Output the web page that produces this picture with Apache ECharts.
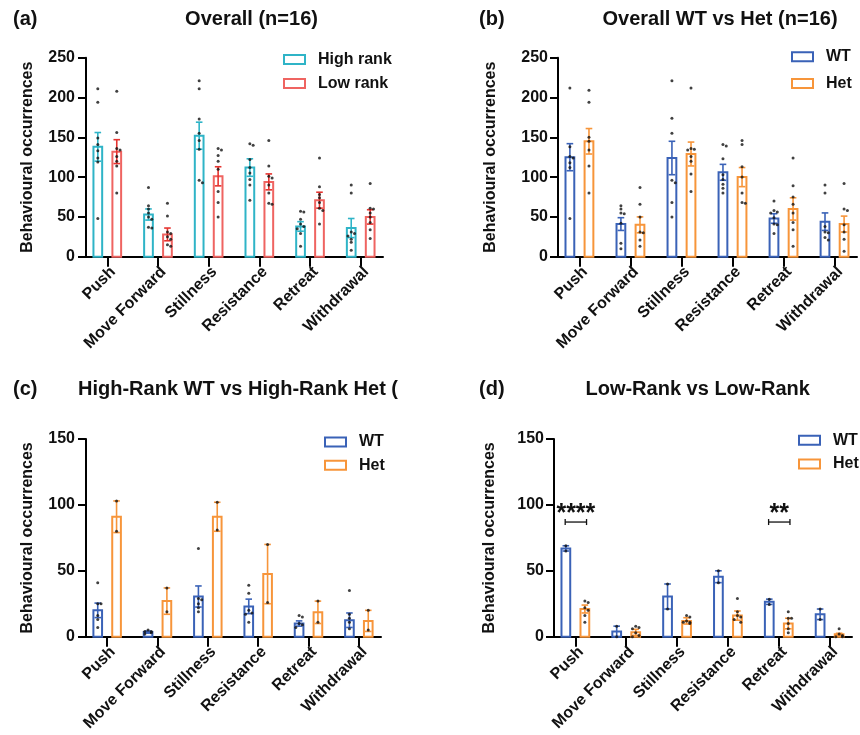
<!DOCTYPE html>
<html>
<head>
<meta charset="utf-8">
<script src="https://cdn.jsdelivr.net/npm/echarts@6/dist/echarts.min.js"></script>
<style>
  html, body { margin: 0; padding: 0; background: #fff; }
  #main { width: 860px; height: 735px; }
</style>
</head>
<body>
<div id="main"></div>
<script>
var categories = ['Push', 'Move Forward', 'Stillness', 'Resistance', 'Retreat', 'Withdrawal'];

// (a) Overall, high vs low rank
var aHighMean = [138, 53, 152, 112, 38, 36];
var aHighSem = [18, 7, 17, 11, 6, 12];
var aLowMean = [132, 28, 101, 94, 71, 50];
var aLowSem = [15, 8, 12, 10, 10, 9];
var aHighDots = [
  [211, 194, 149, 141, 133, 124, 119, 48],
  [87, 64, 60, 55, 50, 47, 37, 36],
  [221, 211, 173, 155, 146, 135, 96, 93],
  [142, 140, 122, 112, 105, 97, 90, 71],
  [57, 56, 47, 41, 38, 35, 29, 13],
  [90, 80, 31, 29, 26, 22, 18, 8]
];
var aLowDots = [
  [208, 156, 136, 134, 126, 120, 114, 80],
  [67, 51, 31, 29, 25, 22, 15, 13],
  [136, 134, 127, 120, 110, 82, 68, 50],
  [146, 114, 101, 99, 90, 80, 67, 66],
  [124, 88, 78, 74, 68, 61, 58, 41],
  [92, 61, 60, 55, 50, 43, 34, 23]
];

// (b) Overall WT vs Het
var bWtMean = [125, 41, 124, 106, 48, 44];
var bWtSem = [17, 8, 21, 10, 6, 11];
var bHetMean = [145, 40, 129, 100, 60, 41];
var bHetSem = [16, 10, 15, 12, 14, 10];
var bWtDots = [
  [212, 138, 126, 124, 118, 112, 48],
  [64, 60, 55, 54, 42, 17, 10],
  [221, 174, 155, 96, 93, 68, 50],
  [141, 139, 123, 103, 97, 91, 86, 80],
  [70, 58, 56, 55, 49, 41, 40, 29],
  [90, 80, 38, 31, 30, 24, 21]
];
var bHetDots = [
  [209, 194, 150, 145, 134, 114, 80],
  [87, 66, 50, 31, 30, 21, 13],
  [212, 136, 135, 134, 126, 120, 104, 82],
  [146, 141, 113, 100, 80, 68, 67],
  [124, 89, 75, 66, 55, 43, 34, 13],
  [92, 60, 58, 40, 31, 22, 7]
];

// (c) High-rank WT vs High-rank Het
var cWtMean = [20, 3.5, 30.5, 23, 10, 12.5];
var cWtSem = [5.5, 0.8, 8, 5.5, 2, 5.5];
var cHetMean = [91, 27, 91, 47.5, 18.5, 12];
var cHetSem = [12, 10, 11, 22.5, 8.5, 8];
var cWtDots = [
  [41, 25, 25, 16, 13, 7],
  [5, 4, 4, 3, 2],
  [67, 29, 28, 25, 22, 19],
  [39, 33, 20, 18, 17, 11],
  [16, 15, 10, 9, 7],
  [35, 17, 14, 11, 6]
];
var cHetDots = [[103, 80], [37, 19], [102, 81], [70, 26], [27, 11], [20, 5]];

// (d) Low-rank vs Low-rank
var dWtMean = [67, 4, 30.5, 45.5, 26.5, 17];
var dWtSem = [2, 4, 9.5, 4.5, 2, 4];
var dHetMean = [21, 3.3, 12, 16, 10, 1.8];
var dHetSem = [3, 2.3, 2.4, 3.5, 4, 0.8];
var dWtDots = [[69, 65], [8, 0], [40, 21], [50, 41], [28.5, 24.5], [21, 13]];
var dHetDots = [
  [27, 26, 22, 20, 16, 11],
  [8, 7, 6, 3, 1, 0],
  [16, 15, 12, 11, 11, 10],
  [29, 19, 16, 15, 13, 11],
  [19, 14, 14, 10, 6, 3],
  [6, 2, 1, 0, 0]
];
var dSigCats = [0, 4];
var dSigLabels = ['****', '**'];
var dSigBracket = [87, 87];
var dSigText = [93, 93];

var HIGH = '#2FB4C7', LOW = '#EF6461', LOW_ERR = '#E5332F';
var WT = '#3A62B7', HET = '#F7953A';
var FONT = '"Liberation Sans", Arial, sans-serif';
var BAR_W = 0.172, OFF = 0.187, CAP = 0.13;

var chart = echarts.init(document.getElementById('main'));

var grids = [
  { left: 86, top: 57.7, width: 297, height: 199 },
  { left: 558, top: 57.7, width: 299, height: 199 },
  { left: 86, top: 439, width: 295, height: 197.7 },
  { left: 554, top: 439, width: 298, height: 197.7 }
];
var yMaxes = [250, 250, 150, 150];
var nameGaps = [50, 59, 50, 56];
var labelMargins = [11, 10, 11, 10];

var xAxes = grids.map(function (g, i) {
  return {
    type: 'value', gridIndex: i, min: -0.42, max: 5.44,
    splitLine: { show: false },
    axisLine: { onZero: false, lineStyle: { color: '#000', width: 2 } },
    axisTick: { customValues: [0, 1, 2, 3, 4, 5], length: 10, lineStyle: { color: '#000', width: 2 } },
    axisLabel: {
      customValues: [0, 1, 2, 3, 4, 5], rotate: 45, margin: 7, verticalAlign: 'top',
      fontFamily: FONT, fontWeight: 'bold', fontSize: 16, color: '#111',
      formatter: function (v) { return categories[Math.round(v)]; }
    }
  };
});

var yAxes = grids.map(function (g, i) {
  return {
    type: 'value', gridIndex: i, min: 0, max: yMaxes[i], interval: 50,
    name: 'Behavioural occurrences', nameLocation: 'middle', nameGap: nameGaps[i],
    nameTextStyle: { fontFamily: FONT, fontWeight: 'bold', fontSize: 16, color: '#111' },
    splitLine: { show: false },
    axisLine: { show: true, onZero: false, lineStyle: { color: '#000', width: 2 } },
    axisTick: { show: true, length: 8, lineStyle: { color: '#000', width: 2 } },
    axisLabel: { margin: labelMargins[i], fontFamily: FONT, fontWeight: 'bold', fontSize: 16, color: '#111' }
  };
});

function jitter(vals, thr) {
  var sorted = vals.slice().sort(function (a, b) { return b - a; });
  var prev = Infinity, side = 1;
  return sorted.map(function (v) {
    var j = 0;
    if (prev - v < thr) { j = side * 0.065; side = -side; } else { side = 1; }
    prev = v;
    return [j, v];
  });
}

function groupSeries(gi, name, means, sems, dots, off, color, errColor) {
  var barData = means.map(function (m, i) { return [i, m, sems[i]]; });
  var dotData = [];
  dots.forEach(function (list, i) {
    jitter(list, yMaxes[gi] * 0.016).forEach(function (d) {
      dotData.push([i + off + d[0], d[1]]);
    });
  });
  return [
    {
      type: 'custom', name: name, xAxisIndex: gi, yAxisIndex: gi, z: 2,
      itemStyle: { color: color },
      data: barData,
      renderItem: function (params, api) {
        var x = api.value(0) + off;
        var p0 = api.coord([x, 0]);
        var p1 = api.coord([x, api.value(1)]);
        var w = api.size([BAR_W, 0])[0];
        return {
          type: 'rect',
          shape: { x: p0[0] - w / 2, y: p1[1], width: w, height: p0[1] - p1[1] },
          style: { fill: '#fff', stroke: color, lineWidth: 2 }
        };
      }
    },
    {
      type: 'custom', name: name, xAxisIndex: gi, yAxisIndex: gi, z: 3,
      itemStyle: { color: color },
      data: barData,
      renderItem: function (params, api) {
        var x = api.value(0) + off, m = api.value(1), s = api.value(2);
        var hi = api.coord([x, m + s]);
        var lo = api.coord([x, Math.max(0, m - s)]);
        var c = api.size([CAP, 0])[0] / 2;
        var st = { stroke: errColor, lineWidth: 1.6 };
        return {
          type: 'group',
          children: [
            { type: 'line', shape: { x1: hi[0], y1: hi[1], x2: lo[0], y2: lo[1] }, style: st },
            { type: 'line', shape: { x1: hi[0] - c, y1: hi[1], x2: hi[0] + c, y2: hi[1] }, style: st },
            { type: 'line', shape: { x1: lo[0] - c, y1: lo[1], x2: lo[0] + c, y2: lo[1] }, style: st }
          ]
        };
      }
    },
    {
      type: 'scatter', name: name, xAxisIndex: gi, yAxisIndex: gi, z: 4,
      symbolSize: 3, itemStyle: { color: '#111' },
      data: dotData
    }
  ];
}

var series = [].concat(
  groupSeries(0, 'High rank', aHighMean, aHighSem, aHighDots, -OFF, HIGH, HIGH),
  groupSeries(0, 'Low rank', aLowMean, aLowSem, aLowDots, OFF, LOW, LOW_ERR),
  groupSeries(1, 'WT', bWtMean, bWtSem, bWtDots, -OFF, WT, WT),
  groupSeries(1, 'Het', bHetMean, bHetSem, bHetDots, OFF, HET, HET),
  groupSeries(2, 'WT', cWtMean, cWtSem, cWtDots, -OFF, WT, WT),
  groupSeries(2, 'Het', cHetMean, cHetSem, cHetDots, OFF, HET, HET),
  groupSeries(3, 'WT', dWtMean, dWtSem, dWtDots, -OFF, WT, WT),
  groupSeries(3, 'Het', dHetMean, dHetSem, dHetDots, OFF, HET, HET)
);

// significance brackets in panel (d)
series.push({
  type: 'custom', xAxisIndex: 3, yAxisIndex: 3, z: 5, silent: true,
  data: dSigCats.map(function (c, i) { return [c, dSigBracket[i], dSigText[i]]; }),
  renderItem: function (params, api) {
    var c = api.value(0);
    var a = api.coord([c - 0.2, api.value(1)]);
    var b = api.coord([c + 0.22, api.value(1)]);
    var t = api.coord([c + 0.01, api.value(2)]);
    var st = { stroke: '#111', lineWidth: 1.3 };
    return {
      type: 'group',
      children: [
        { type: 'line', shape: { x1: a[0], y1: a[1], x2: b[0], y2: b[1] }, style: st },
        { type: 'line', shape: { x1: a[0], y1: a[1] - 3, x2: a[0], y2: a[1] + 3 }, style: st },
        { type: 'line', shape: { x1: b[0], y1: b[1] - 3, x2: b[0], y2: b[1] + 3 }, style: st },
        {
          type: 'text', x: t[0], y: t[1],
          style: {
            text: dSigLabels[params.dataIndex], fill: '#111',
            font: 'bold 25px ' + FONT, textAlign: 'center', textVerticalAlign: 'middle'
          }
        }
      ]
    };
  }
});

function legItem(name, color) {
  return { name: name, icon: 'rect', itemStyle: { color: '#fff', borderColor: color, borderWidth: 2 } };
}
var legendBase = {
  orient: 'vertical', itemWidth: 21, itemHeight: 9, padding: 0,
  selectedMode: false,
  textStyle: { fontFamily: FONT, fontWeight: 'bold', fontSize: 16, color: '#111', lineHeight: 16, padding: [0, 0, 0, 8] }
};
function legend(left, top, gap, items) {
  return Object.assign({}, legendBase, { left: left, top: top, itemGap: gap, data: items });
}

function txt(x, y, s, align) {
  return {
    type: 'text', x: x, y: y,
    style: { text: s, fill: '#111', font: 'bold 20px ' + FONT, textAlign: align, textVerticalAlign: 'middle' }
  };
}

chart.setOption({
  backgroundColor: '#fff',
  animation: false,
  grid: grids,
  xAxis: xAxes,
  yAxis: yAxes,
  legend: [
    legend(283, 51.5, 8, [legItem('High rank', HIGH), legItem('Low rank', LOW)]),
    legend(791, 48.7, 10.7, [legItem('WT', WT), legItem('Het', HET)]),
    legend(324, 434, 7.3, [legItem('WT', WT), legItem('Het', HET)]),
    legend(798, 432.3, 7.7, [legItem('WT', WT), legItem('Het', HET)])
  ],
  graphic: [
    txt(13, 19, '(a)', 'left'),
    txt(251.5, 19, 'Overall (n=16)', 'center'),
    txt(479, 19, '(b)', 'left'),
    txt(720, 19, 'Overall WT vs Het (n=16)', 'center'),
    txt(13, 389, '(c)', 'left'),
    txt(78, 389, 'High-Rank WT vs High-Rank Het (', 'left'),
    txt(479, 389, '(d)', 'left'),
    txt(697.7, 389, 'Low-Rank vs Low-Rank', 'center')
  ],
  series: series
});
</script>
</body>
</html>
